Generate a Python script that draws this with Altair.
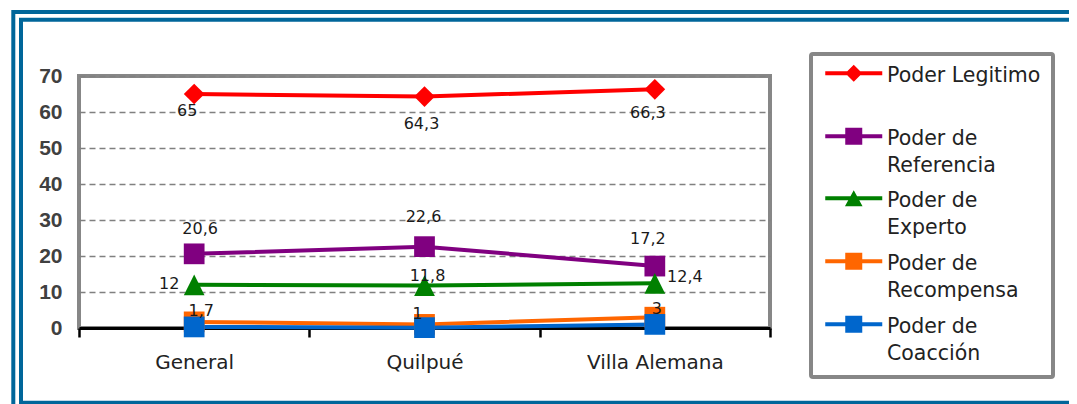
import altair as alt
import pandas as pd

categories = ["General", "Quilpué", "Villa Alemana"]
series = ["Poder Legitimo", "Poder de Referencia", "Poder de Experto",
          "Poder de Recompensa", "Poder de Coacción"]
legitimo = [65, 64.3, 66.3]
referencia = [20.6, 22.6, 17.2]
experto = [12, 11.8, 12.4]
recompensa = [1.7, 1, 3]
coaccion = [0.3, 0.1, 1.0]
show_labels = [True, True, True, True, False]
y_ticks = [0, 10, 20, 30, 40, 50, 60, 70]

colors = ["#FF0000", "#800080", "#008000", "#FF6600", "#0066CC"]
marker_shapes = ["diamond", "square", "M0,-1L1,1L-1,1Z", "square", "square"]
# legend symbols: line + marker (custom paths, 1 unit = 10 px)
LINE = "M-2.85,-0.5L2.85,-0.5L2.85,-0.1L-2.85,-0.1Z"
SQUARE = "M-0.85,-1.15L0.85,-1.15L0.85,0.55L-0.85,0.55Z"
legend_shapes = [
    LINE + "M0,-1.15L0.85,-0.3L0,0.55L-0.85,-0.3Z",
    LINE + SQUARE,
    LINE + "M0,-1.1L0.88,0.5L-0.88,0.5Z",
    LINE + SQUARE,
    LINE + SQUARE,
]

values = [legitimo, referencia, experto, recompensa, coaccion]


def fmt(v):
    s = ("%g" % v)
    return s.replace(".", ",")


rows = []
for si, (s, vals) in enumerate(zip(series, values)):
    for ci, (c, v) in enumerate(zip(categories, vals)):
        rows.append({"series": s, "category": c, "value": v,
                     "label": fmt(v) if show_labels[si] else "",
                     "order": si * 10 + ci})
df = pd.DataFrame(rows)

# label offsets (style) per series / category
label_offsets = {
    ("Poder Legitimo", "General"): (-7, 17),
    ("Poder Legitimo", "Quilpué"): (-3, 27),
    ("Poder Legitimo", "Villa Alemana"): (-7, 24),
    ("Poder de Referencia", "General"): (6, -25),
    ("Poder de Referencia", "Quilpué"): (-1, -30),
    ("Poder de Referencia", "Villa Alemana"): (-7, -27),
    ("Poder de Experto", "General"): (-25, -1),
    ("Poder de Experto", "Quilpué"): (3, -10),
    ("Poder de Experto", "Villa Alemana"): (30, -6),
    ("Poder de Recompensa", "General"): (7, -11),
    ("Poder de Recompensa", "Quilpué"): (-7, -10),
    ("Poder de Recompensa", "Villa Alemana"): (2, -8),
}

W, H = 691, 252

x_enc = alt.X("category:N", sort=categories, bandPosition=0.5,
              scale=alt.Scale(type="band", paddingInner=0, paddingOuter=0),
              axis=alt.Axis(title=None, labelAngle=0, domainColor="#000000",
                            domainWidth=3, tickColor="#000000", tickWidth=2.5,
                            tickSize=9, tickBand="extent", labelFont="DejaVu Sans",
                            labelFontSize=20, labelColor="#222222",
                            labelPadding=15, grid=False))
y_enc = alt.Y("value:Q",
              scale=alt.Scale(domain=[0, 70], nice=False, zero=True),
              axis=alt.Axis(title=None, values=y_ticks, domain=False, ticks=False,
                            labelFont="Liberation Sans", labelFontWeight="bold",
                            labelFontSize=21, labelColor="#404040", labelPadding=17,
                            grid=True, gridColor="#808080", gridDash=[6, 4],
                            gridWidth=1.5))
color_scale = alt.Scale(domain=series, range=colors)

base = alt.Chart(df)

lines = base.mark_line(strokeWidth=4).encode(
    x=x_enc, y=y_enc,
    color=alt.Color("series:N", scale=color_scale, legend=None),
    order=alt.Order("order:Q"),
)

points = base.mark_point(filled=True, opacity=1, size=430).encode(
    x=x_enc, y=y_enc,
    color=alt.Color("series:N", scale=color_scale, legend=None),
    shape=alt.Shape("series:N", scale=alt.Scale(domain=series, range=marker_shapes),
                    legend=None),
    order=alt.Order("order:Q"),
)

# legend-only layer: no marks drawn (filter leaves no rows), scales have explicit domains
legend_layer = base.transform_filter("datum.value < -1000").mark_point(
    filled=True, opacity=1).encode(
    x=x_enc, y=y_enc,
    color=alt.Color("series:N", scale=color_scale,
                    legend=alt.Legend(
                        title=None, orient="none", legendX=732, legendY=-22,
                        padding=12, rowPadding=13, symbolOffset=20.5, labelOffset=23,
                        symbolSize=400, symbolStrokeWidth=0, symbolOpacity=1,
                        labelFont="DejaVu Sans", labelFontSize=20.5,
                        labelColor="#222222", labelLimit=400,
                        labelBaseline="middle",
                        labelExpr="split(datum.label == 'Poder Legitimo' ? 'Poder Legitimo|' : replace(datum.label, 'Poder de ', 'Poder de|'), '|')",
                        strokeColor="#878787", fillColor="#FFFFFF",
                        cornerRadius=2)),
    shape=alt.Shape("series:N", scale=alt.Scale(domain=series, range=legend_shapes)),
)

texts = []
for (s, c), (dx, dy) in label_offsets.items():
    texts.append(
        base.transform_filter(
            (alt.datum.series == s) & (alt.datum.category == c)
        ).mark_text(font="DejaVu Sans", fontSize=16, color="#1A1A1A",
                    align="center", baseline="middle", dx=dx, dy=dy).encode(
            x=x_enc, y=y_enc, text="label:N")
    )

one = alt.Chart(pd.DataFrame({"k": [0]}))
frame_outer = one.mark_rect(filled=False, stroke="#00669A", strokeWidth=4).encode(
    x=alt.value(-65.7), x2=alt.value(1040), y=alt.value(-64), y2=alt.value(360))
frame_inner = one.mark_rect(filled=False, stroke="#00669A", strokeWidth=4).encode(
    x=alt.value(-58), x2=alt.value(1040), y=alt.value(-56.3), y2=alt.value(326.7))

chart = alt.layer(frame_outer, frame_inner, lines, points, legend_layer, *texts).resolve_scale(
    color="independent", shape="independent"
).properties(
    width=W, height=H,
    autosize=alt.AutoSizeParams(type="none"),
    padding={"left": 71, "top": 68, "right": 299, "bottom": 80},
).configure(
    background="#FFFFFF",
    style={"guide-label": {"lineHeight": 27}},
).configure_view(
    stroke="#878787", strokeWidth=4
).configure_legend(
    strokeWidth=4
)

chart.save("out.html", embed_options={"renderer": "svg", "actions": False})
